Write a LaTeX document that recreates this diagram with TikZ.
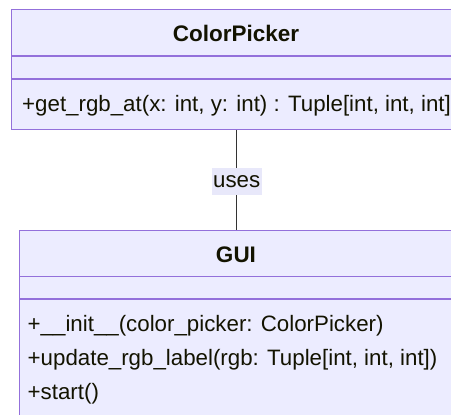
\documentclass[tikz,border=0pt]{standalone}
\usepackage{fontspec}
\setmainfont{Liberation Sans}
\definecolor{boxfill}{HTML}{ECECFF}
\definecolor{boxline}{HTML}{9370DB}
\definecolor{txt}{HTML}{131300}
\definecolor{edge}{HTML}{333333}
\definecolor{lblbg}{HTML}{E8E8FA}
\begin{document}
\begin{tikzpicture}[x=1pt,y=-1pt,
  classbox/.style={draw=boxline, fill=boxfill, line width=1.4pt, inner sep=0pt, anchor=north west},
  divider/.style={draw=boxline, line width=1.4pt},
  title/.style={font=\fontsize{22.5}{26}\selectfont\bfseries, text=txt, anchor=base, inner sep=0pt},
  member/.style={font=\fontsize{22.3}{26}\selectfont, text=txt, anchor=base west, inner sep=0pt},
  conn/.style={draw=edge, line width=1.3pt},
  lbl/.style={fill=lblbg, font=\fontsize{22.3}{26}\selectfont, text=txt, inner xsep=1.5pt, inner ysep=7.5pt}]
\useasboundingbox (0,0) rectangle (451,415);
\clip (0,0) rectangle (451,415);
% ColorPicker
\node[classbox, minimum width=450pt, minimum height=120pt] (cp) at (11,9) {};
\draw[divider] (11,56) coordinate (cpd1) -- (461,56);
\draw[divider] (11,79) coordinate (cpd2) -- (461,79);
\node[title] (cpt) at (236,41.5) {ColorPicker};
\node[member] (cpm1) at (22,111.5) {+get\_rgb\_at(x: int, y: int) : Tuple[int, int, int]};
% GUI
\node[classbox, minimum width=434pt, minimum height=200pt] (gui) at (19,230) {};
\draw[divider] (19,276.5) coordinate (gd1) -- (453,276.5);
\draw[divider] (19,299) coordinate (gd2) -- (453,299);
\node[title] (guit) at (236,262) {GUI};
\node[member] (gm1) at (27.5,331.5) {+\_\_init\_\_(color\_picker: ColorPicker)};
\node[member] (gm2) at (27.5,365.5) {+update\_rgb\_label(rgb: Tuple[int, int, int])};
\node[member] (gm3) at (27.5,399.5) {+start()};
% edge
\draw[conn] (cp.south) -- node[lbl, yshift=-1.5pt] (uses) {uses} (gui.north);
\end{tikzpicture}
\end{document}
